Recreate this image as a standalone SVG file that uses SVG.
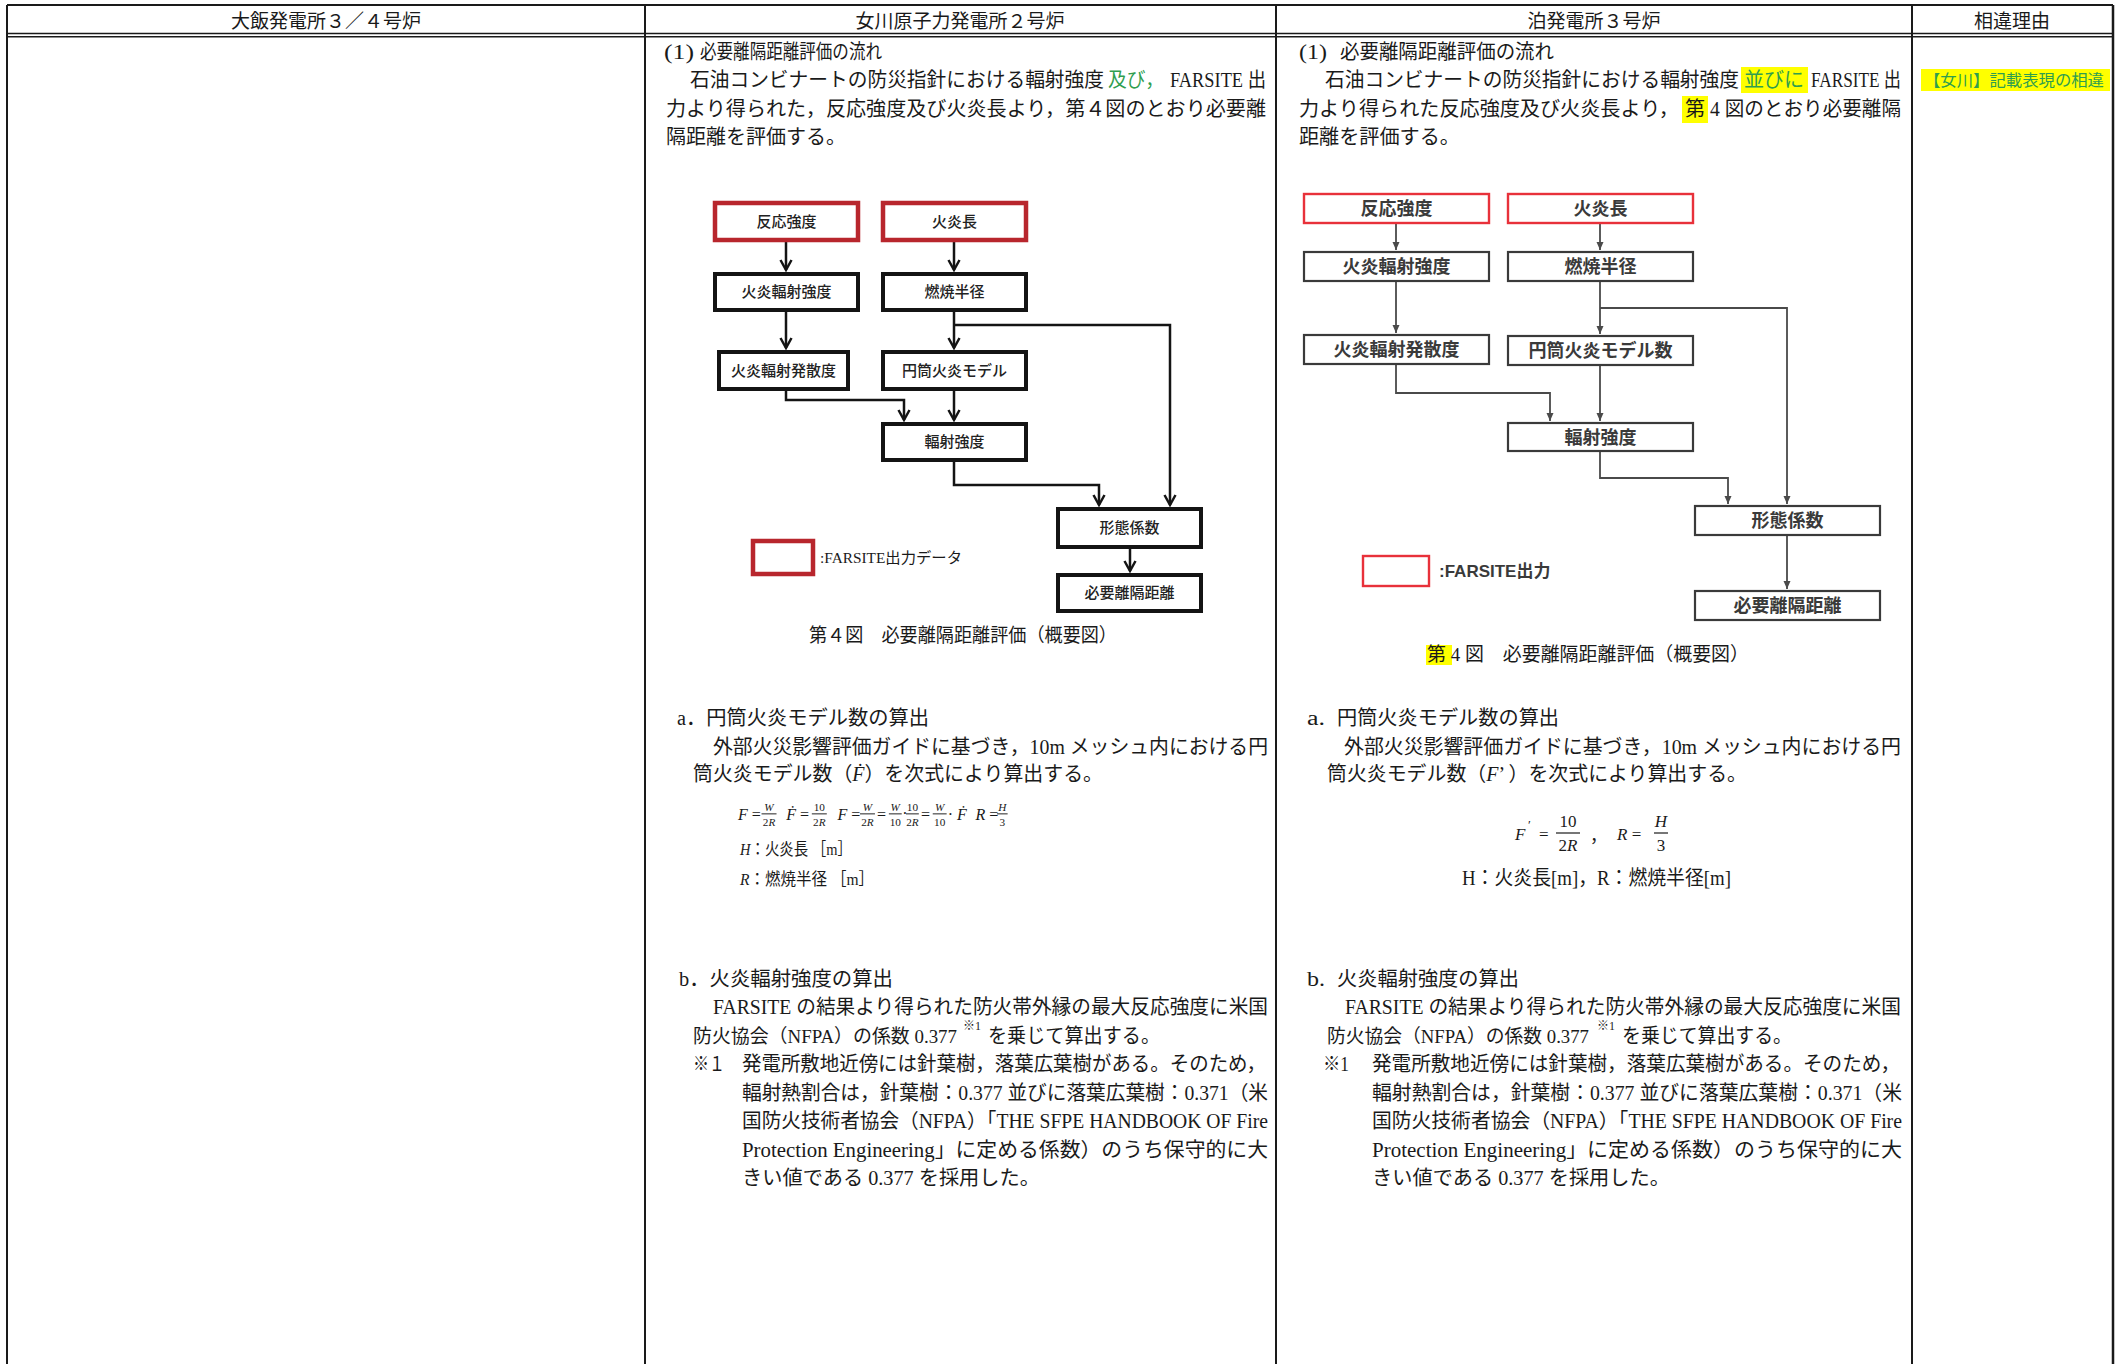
<svg xmlns="http://www.w3.org/2000/svg" width="2121" height="1364" viewBox="0 0 2121 1364">
<defs>
<style>
.t{font-family:'Liberation Serif','Noto Sans CJK JP',serif;font-size:20px;fill:#1a1a1a}
.hd{font-family:'Liberation Serif','Noto Sans CJK JP',serif;font-size:19px;fill:#1a1a1a;text-anchor:middle}
.g{fill:#2f9e4f}
.hl{fill:#ffff00}
.grid{stroke:#1a1a1a;stroke-width:2;fill:none}
.b1{fill:#fff;stroke:#141414;stroke-width:4}
.r1{fill:#fff;stroke:#b8262d;stroke-width:4.5}
.b2{fill:#fff;stroke:#3a3a3a;stroke-width:2.2}
.r2{fill:#fff;stroke:#e8313a;stroke-width:2.4}
.l1{font-family:'Noto Sans CJK JP',sans-serif;font-size:15px;font-weight:500;fill:#222;text-anchor:middle}
.l2{font-family:'Noto Sans CJK JP',sans-serif;font-size:18px;font-weight:700;fill:#3a3a3a;text-anchor:middle}
.c1{fill:none;stroke:#141414;stroke-width:2.5;marker-end:url(#m1)}
.c2{fill:none;stroke:#4a4a4a;stroke-width:1.8;marker-end:url(#m2)}
.f{font-family:'Liberation Serif','Noto Sans CJK JP',serif;fill:#1a1a1a}
.i{font-style:italic}
.fs{font-size:10.5px;text-anchor:middle}
.fm{font-size:15px}
.fb{stroke:#1a1a1a;stroke-width:0.9}
.fl{font-size:17px}
.fc{font-size:17px;text-anchor:middle}
.sup{font-size:12px}
.s19{font-size:19px}
.s17{font-size:17px}
.s16{font-size:16px}
.s15{font-size:15px}
</style>
<marker id="m1" markerUnits="userSpaceOnUse" viewBox="-12 -8 14 16" refX="0" refY="0" markerWidth="14" markerHeight="16" orient="auto" overflow="visible"><path d="M-10,-5.5 L0,0 L-10,5.5" fill="none" stroke="#141414" stroke-width="2.5"/></marker>
<marker id="m2" markerUnits="userSpaceOnUse" viewBox="-10 -5 11 10" refX="0" refY="0" markerWidth="11" markerHeight="10" orient="auto" overflow="visible"><path d="M-8,-3.5 L0,0 L-8,3.5Z" fill="#4a4a4a"/></marker>
</defs>
<rect width="2121" height="1364" fill="#fff"/>

<g id="table">
<line class="grid" x1="7" y1="5" x2="2113" y2="5"/>
<line class="grid" x1="7" y1="33.5" x2="2113" y2="33.5" style="stroke-width:1.4"/>
<line class="grid" x1="7" y1="36.8" x2="2113" y2="36.8" style="stroke-width:1.4"/>
<line class="grid" x1="7" y1="5" x2="7" y2="1364"/>
<line class="grid" x1="645" y1="5" x2="645" y2="1364"/>
<line class="grid" x1="1276" y1="5" x2="1276" y2="1364"/>
<line class="grid" x1="1912" y1="5" x2="1912" y2="1364"/>
<line class="grid" x1="2113" y1="5" x2="2113" y2="1364" style="stroke-width:2.5"/>
<text class="hd" x="326" y="28">大飯発電所３／４号炉</text>
<text class="hd" x="960" y="28">女川原子力発電所２号炉</text>
<text class="hd" x="1594" y="28">泊発電所３号炉</text>
<text class="hd" x="2012" y="28">相違理由</text>
</g>

<g id="onagawa-text">
<text class="t" x="664" y="59" textLength="30" lengthAdjust="spacingAndGlyphs">(1)</text>
<text class="t" x="700" y="59" textLength="182" lengthAdjust="spacingAndGlyphs">必要離隔距離評価の流れ</text>
<text class="t" x="690" y="87" textLength="414" lengthAdjust="spacingAndGlyphs">石油コンビナートの防災指針における輻射強度</text>
<text class="t g" x="1108" y="87" textLength="56" lengthAdjust="spacingAndGlyphs">及び，</text>
<text class="t" x="1170" y="87" textLength="96" lengthAdjust="spacingAndGlyphs">FARSITE 出</text>
<text class="t" x="666" y="116" textLength="600" lengthAdjust="spacingAndGlyphs">力より得られた，反応強度及び火炎長より，第４図のとおり必要離</text>
<text class="t" x="666" y="144" textLength="180" lengthAdjust="spacingAndGlyphs">隔距離を評価する。</text>
<text class="t s19" x="809" y="642" textLength="308" lengthAdjust="spacingAndGlyphs">第４図　必要離隔距離評価（概要図）</text>

<text class="t" x="677" y="725" textLength="252" lengthAdjust="spacingAndGlyphs">a．円筒火炎モデル数の算出</text>
<text class="t" x="713" y="754" textLength="555" lengthAdjust="spacingAndGlyphs">外部火災影響評価ガイドに基づき，10m メッシュ内における円</text>
<text class="t" x="693" y="781" textLength="410" lengthAdjust="spacingAndGlyphs">筒火炎モデル数（<tspan class="i">Ḟ</tspan>）を次式により算出する。</text>
<g id="formula-onagawa" transform="translate(738,816) scale(1.07) translate(-740,-816)">
<text class="f fm" x="740" y="820"><tspan class="i">F</tspan> =</text>
<text class="f fs i" x="769" y="811">W</text><line class="fb" x1="762" y1="814" x2="776" y2="814"/><text class="f fs" x="769" y="825">2<tspan class="i">R</tspan></text>
<text class="f fm" x="785" y="820"><tspan class="i">Ḟ</tspan> =</text>
<text class="f fs" x="816" y="811">10</text><line class="fb" x1="809" y1="814" x2="823" y2="814"/><text class="f fs" x="816" y="825">2<tspan class="i">R</tspan></text>
<text class="f fm" x="833" y="820"><tspan class="i">F</tspan> =</text>
<text class="f fs i" x="861" y="811">W</text><line class="fb" x1="854" y1="814" x2="868" y2="814"/><text class="f fs" x="861" y="825">2<tspan class="i">R</tspan></text>
<text class="f fm" x="870" y="820">=</text>
<text class="f fs i" x="887" y="811">W</text><line class="fb" x1="881" y1="814" x2="893" y2="814"/><text class="f fs" x="887" y="825">10</text>
<text class="f fm" x="893.5" y="819">·</text>
<text class="f fs" x="903" y="811">10</text><line class="fb" x1="897" y1="814" x2="909" y2="814"/><text class="f fs" x="903" y="825">2<tspan class="i">R</tspan></text>
<text class="f fm" x="911" y="820">=</text>
<text class="f fs i" x="928.5" y="811">W</text><line class="fb" x1="922" y1="814" x2="935" y2="814"/><text class="f fs" x="928.5" y="825">10</text>
<text class="f fm" x="936" y="820">· <tspan class="i">Ḟ</tspan></text>
<text class="f fm" x="962" y="820"><tspan class="i">R</tspan> =</text>
<text class="f fs i" x="987" y="811">H</text><line class="fb" x1="982" y1="814" x2="992" y2="814"/><text class="f fs" x="987" y="825">3</text>
</g>
<text class="t s17" x="740" y="855" textLength="112" lengthAdjust="spacingAndGlyphs"><tspan class="i">H</tspan>：火炎長 ［m］</text>
<text class="t s17" x="740" y="885" textLength="134" lengthAdjust="spacingAndGlyphs"><tspan class="i">R</tspan>：燃焼半径 ［m］</text>

<text class="t" x="679" y="986" textLength="214" lengthAdjust="spacingAndGlyphs">b．火炎輻射強度の算出</text>
<text class="t" x="713" y="1014" textLength="555" lengthAdjust="spacingAndGlyphs">FARSITE の結果より得られた防火帯外縁の最大反応強度に米国</text>
<text class="t s19" x="693" y="1043" textLength="264" lengthAdjust="spacingAndGlyphs">防火協会（NFPA）の係数 0.377</text>
<text class="t sup" x="963" y="1030" textLength="18" lengthAdjust="spacingAndGlyphs">※1</text>
<text class="t" x="988" y="1043" textLength="172" lengthAdjust="spacingAndGlyphs">を乗じて算出する。</text>
<text class="t" x="693" y="1071" textLength="32" lengthAdjust="spacingAndGlyphs">※１</text>
<text class="t" x="742" y="1071" textLength="524" lengthAdjust="spacingAndGlyphs">発電所敷地近傍には針葉樹，落葉広葉樹がある。そのため，</text>
<text class="t" x="742" y="1100" textLength="526" lengthAdjust="spacingAndGlyphs">輻射熱割合は，針葉樹：0.377 並びに落葉広葉樹：0.371（米</text>
<text class="t" x="742" y="1128" textLength="526" lengthAdjust="spacingAndGlyphs">国防火技術者協会（NFPA）「THE SFPE HANDBOOK OF Fire</text>
<text class="t" x="742" y="1157" textLength="526" lengthAdjust="spacingAndGlyphs">Protection Engineering」に定める係数）のうち保守的に大</text>
<text class="t" x="742" y="1185" textLength="298" lengthAdjust="spacingAndGlyphs">きい値である 0.377 を採用した。</text>
</g>

<g id="tomari-text">
<text class="t" x="1299" y="59" textLength="28" lengthAdjust="spacingAndGlyphs">(1)</text>
<text class="t" x="1340" y="59" textLength="214" lengthAdjust="spacingAndGlyphs">必要離隔距離評価の流れ</text>
<rect class="hl" x="1741" y="67" width="67" height="26"/>
<text class="t" x="1325" y="87" textLength="414" lengthAdjust="spacingAndGlyphs">石油コンビナートの防災指針における輻射強度</text>
<text class="t g" x="1744" y="87" textLength="60" lengthAdjust="spacingAndGlyphs">並びに</text>
<text class="t" x="1811" y="87" textLength="90" lengthAdjust="spacingAndGlyphs">FARSITE 出</text>
<rect class="hl" x="1682" y="96" width="26" height="27"/>
<text class="t" x="1299" y="116" textLength="380" lengthAdjust="spacingAndGlyphs">力より得られた反応強度及び火炎長より，</text>
<text class="t" x="1685" y="116" textLength="20" lengthAdjust="spacingAndGlyphs">第</text>
<text class="t" x="1710" y="116" textLength="191" lengthAdjust="spacingAndGlyphs"> 4 図のとおり必要離隔</text>
<text class="t" x="1299" y="144" textLength="161" lengthAdjust="spacingAndGlyphs">距離を評価する。</text>
<rect class="hl" x="1426" y="645" width="26" height="20"/>
<text class="t s19" x="1427" y="661" textLength="322" lengthAdjust="spacingAndGlyphs">第 4 図　必要離隔距離評価（概要図）</text>

<text class="t" x="1307" y="725" textLength="18" lengthAdjust="spacingAndGlyphs">a.</text>
<text class="t" x="1337" y="725" textLength="222" lengthAdjust="spacingAndGlyphs">円筒火炎モデル数の算出</text>
<text class="t" x="1344" y="754" textLength="557" lengthAdjust="spacingAndGlyphs">外部火災影響評価ガイドに基づき，10m メッシュ内における円</text>
<text class="t" x="1327" y="781" textLength="420" lengthAdjust="spacingAndGlyphs">筒火炎モデル数（<tspan class="i">F</tspan>’ ）を次式により算出する。</text>
<g id="formula-tomari">
<text class="f i fl" x="1515" y="840">F</text>
<text class="f" x="1528" y="829" font-size="13">′</text>
<text class="f fl" x="1539" y="840">=</text>
<text class="f fc" x="1568" y="827">10</text><line class="fb" x1="1556" y1="833" x2="1580" y2="833" style="stroke-width:1.2"/><text class="f fc" x="1568" y="851">2<tspan class="i">R</tspan></text>
<text class="f fl" x="1590" y="842">，</text>
<text class="f fl" x="1617" y="840"><tspan class="i">R</tspan> =</text>
<text class="f fc i" x="1661" y="827">H</text><line class="fb" x1="1654" y1="833" x2="1668" y2="833" style="stroke-width:1.2"/><text class="f fc" x="1661" y="851">3</text>
</g>
<text class="t" x="1462" y="885" textLength="269" lengthAdjust="spacingAndGlyphs">H：火炎長[m]，R：燃焼半径[m]</text>

<text class="t" x="1307" y="986" textLength="18" lengthAdjust="spacingAndGlyphs">b.</text>
<text class="t" x="1337" y="986" textLength="182" lengthAdjust="spacingAndGlyphs">火炎輻射強度の算出</text>
<text class="t" x="1345" y="1014" textLength="556" lengthAdjust="spacingAndGlyphs">FARSITE の結果より得られた防火帯外縁の最大反応強度に米国</text>
<text class="t s19" x="1327" y="1043" textLength="262" lengthAdjust="spacingAndGlyphs">防火協会（NFPA）の係数 0.377</text>
<text class="t sup" x="1597" y="1030" textLength="18" lengthAdjust="spacingAndGlyphs">※1</text>
<text class="t" x="1622" y="1043" textLength="170" lengthAdjust="spacingAndGlyphs">を乗じて算出する。</text>
<text class="t" x="1323" y="1071" textLength="26" lengthAdjust="spacingAndGlyphs">※1</text>
<text class="t" x="1372" y="1071" textLength="528" lengthAdjust="spacingAndGlyphs">発電所敷地近傍には針葉樹，落葉広葉樹がある。そのため，</text>
<text class="t" x="1372" y="1100" textLength="530" lengthAdjust="spacingAndGlyphs">輻射熱割合は，針葉樹：0.377 並びに落葉広葉樹：0.371（米</text>
<text class="t" x="1372" y="1128" textLength="530" lengthAdjust="spacingAndGlyphs">国防火技術者協会（NFPA）「THE SFPE HANDBOOK OF Fire</text>
<text class="t" x="1372" y="1157" textLength="530" lengthAdjust="spacingAndGlyphs">Protection Engineering」に定める係数）のうち保守的に大</text>
<text class="t" x="1372" y="1185" textLength="298" lengthAdjust="spacingAndGlyphs">きい値である 0.377 を採用した。</text>
</g>

<g id="reason-text">
<rect class="hl" x="1921" y="69" width="189" height="22"/>
<text class="t g s16" x="1924" y="86" textLength="180" lengthAdjust="spacingAndGlyphs">【女川】記載表現の相違</text>
</g>

<g id="connectors-onagawa">
<path class="c1" d="M786,242 V270"/>
<path class="c1" d="M954,242 V270"/>
<path class="c1" d="M786,312 V348"/>
<path class="c1" d="M954,312 V348"/>
<path class="c1" d="M954,325 H1170 V505"/>
<path class="c1" d="M786,391 V400 H904 V420"/>
<path class="c1" d="M954,391 V420"/>
<path class="c1" d="M954,462 V485 H1099 V505"/>
<path class="c1" d="M1130,549 V571"/>
</g>

<g id="n1-hannou"><rect class="r1" x="715" y="203" width="143" height="37"/><text class="l1" x="786.5" y="227">反応強度</text></g>
<g id="n1-kaencho"><rect class="r1" x="883" y="203" width="143" height="37"/><text class="l1" x="954.5" y="227">火炎長</text></g>
<g id="n1-fukusha"><rect class="b1" x="715" y="274" width="143" height="36"/><text class="l1" x="786.5" y="297">火炎輻射強度</text></g>
<g id="n1-nensho"><rect class="b1" x="883" y="274" width="143" height="36"/><text class="l1" x="954.5" y="297">燃焼半径</text></g>
<g id="n1-hassan"><rect class="b1" x="719" y="352" width="129" height="37"/><text class="l1" x="783.5" y="376">火炎輻射発散度</text></g>
<g id="n1-entou"><rect class="b1" x="883" y="352" width="143" height="37"/><text class="l1" x="954.5" y="376">円筒火炎モデル</text></g>
<g id="n1-kyodo"><rect class="b1" x="883" y="424" width="143" height="36"/><text class="l1" x="954.5" y="447">輻射強度</text></g>
<g id="n1-keitai"><rect class="b1" x="1058" y="509" width="143" height="38"/><text class="l1" x="1129.5" y="533">形態係数</text></g>
<g id="n1-rikaku"><rect class="b1" x="1058" y="575" width="143" height="36"/><text class="l1" x="1129.5" y="598">必要離隔距離</text></g>
<g id="n1-legend"><rect class="r1" x="753" y="541" width="60" height="33"/><text class="t s15" x="820" y="563" textLength="142" lengthAdjust="spacingAndGlyphs">:FARSITE出力データ</text></g>

<g id="connectors-tomari">
<path class="c2" d="M1396,224 V250"/>
<path class="c2" d="M1600,224 V250"/>
<path class="c2" d="M1396,282 V333"/>
<path class="c2" d="M1600,282 V334"/>
<path class="c2" d="M1600,308 H1787 V504"/>
<path class="c2" d="M1396,365 V393 H1550 V421"/>
<path class="c2" d="M1600,366 V421"/>
<path class="c2" d="M1600,452 V478 H1728 V504"/>
<path class="c2" d="M1787,536 V589"/>
</g>

<g id="n2-hannou"><rect class="r2" x="1304" y="194" width="185" height="29"/><text class="l2" x="1396.5" y="215">反応強度</text></g>
<g id="n2-kaencho"><rect class="r2" x="1508" y="194" width="185" height="29"/><text class="l2" x="1600.5" y="215">火炎長</text></g>
<g id="n2-fukusha"><rect class="b2" x="1304" y="252" width="185" height="29"/><text class="l2" x="1396.5" y="273">火炎輻射強度</text></g>
<g id="n2-nensho"><rect class="b2" x="1508" y="252" width="185" height="29"/><text class="l2" x="1600.5" y="273">燃焼半径</text></g>
<g id="n2-hassan"><rect class="b2" x="1304" y="335" width="185" height="29"/><text class="l2" x="1396.5" y="356">火炎輻射発散度</text></g>
<g id="n2-entou"><rect class="b2" x="1508" y="336" width="185" height="29"/><text class="l2" x="1600.5" y="357">円筒火炎モデル数</text></g>
<g id="n2-kyodo"><rect class="b2" x="1508" y="423" width="185" height="28"/><text class="l2" x="1600.5" y="443.5">輻射強度</text></g>
<g id="n2-keitai"><rect class="b2" x="1695" y="506" width="185" height="29"/><text class="l2" x="1787.5" y="527">形態係数</text></g>
<g id="n2-rikaku"><rect class="b2" x="1695" y="591" width="185" height="29"/><text class="l2" x="1787.5" y="612">必要離隔距離</text></g>
<g id="n2-legend"><rect class="r2" x="1363" y="556" width="66" height="30"/><text x="1439" y="577" style="font-family:'Liberation Sans','Noto Sans CJK JP',sans-serif;font-size:17px;font-weight:700;fill:#3a3a3a">:FARSITE出力</text></g>
</svg>
